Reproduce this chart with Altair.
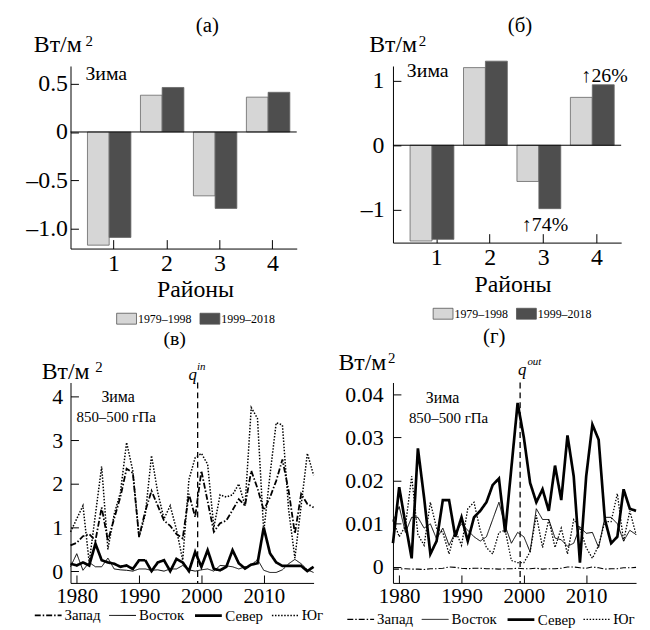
import altair as alt
import pandas as pd

SERIF = "Liberation Serif"

# ---------------- bar panels (а), (б) ----------------
regions = [1, 2, 3, 4]
periods = ["1979–1998", "1999–2018"]
a_first = [-1.17, 0.38, -0.66, 0.36]
a_second = [-1.09, 0.46, -0.79, 0.41]
b_first = [-1.48, 1.20, -0.56, 0.74]
b_second = [-1.455, 1.30, -0.98, 0.935]
a_yticks = [0.5, 0, -0.5, -1.0]
a_ylabels = ["0.5", "0", "–0.5", "–1.0"]
b_yticks = [1, 0, -1]
b_ylabels = ["1", "0", "–1"]

# ---------------- line panels (в), (г) ----------------
years = list(range(1979, 2019))
series = ["Запад", "Восток", "Север", "Юг"]

in_west = [0.59, 0.65, 0.8, 0.85, 0.7, 1.46, 0.7, 1.2, 1.7, 2.35,
           2.25, 0.78, 1.38, 1.84, 1.5, 1.16, 1.04, 0.85, 0.75, 1.77,
           1.24, 2.3, 1.6, 0.9, 1.1, 1.16, 1.4, 1.65, 1.5, 2.3,
           1.9, 1.4, 1.69, 2.07, 2.56, 1.84, 0.86, 1.77, 1.54, 1.46]
in_east = [0.1, 0.4, 0.02, 0.2, 0.1, 0.1, 0.3, 0.05, 0.03, 0.02,
           0.0, 0.05, 0.05, 0.02, 0.03, 0.0, 0.05, 0.05, 0.13, 0.03,
           0.0, 0.03, 0.05, 0.0, 0.13, 0.12, 0.1, 0.05, 0.1, 0.13,
           0.27, 0.02, -0.03, -0.03, 0.03, 0.17, 0.27, 0.17, 0.03, -0.03]
in_north = [0.17, 0.13, 0.2, 0.13, 0.63, 0.25, 0.2, 0.17, 0.1, 0.13,
            0.05, 0.25, 0.25, 0.0, 0.2, 0.25, 0.0, 0.28, 0.2, 0.0,
            0.44, 0.1, 0.48, 0.05, 0.02, 0.1, 0.48, 0.18, 0.06, 0.15,
            0.18, 1.0, 0.41, 0.2, 0.12, 0.12, 0.12, 0.12, 0.0, 0.1]
in_south = [0.9, 1.2, 1.5, 0.2, 1.3, 2.4, 0.5, 1.3, 1.8, 2.95,
            2.3, 0.78, 1.3, 2.65, 1.8, 1.2, 1.5, 0.95, 0.25, 2.1,
            2.6, 2.7, 2.45, 1.0, 1.75, 1.7, 1.75, 2.0, 1.5, 3.75,
            3.5, 0.9, 2.2, 3.4, 3.35, 1.4, 0.3, 1.5, 2.7, 2.2]

out_west = [-0.0005, -0.0005, -0.0004, -0.0005, -0.0005, -0.0006, -0.0004, -0.0004, -0.0003, 0.0,
            -0.0001, -0.0003, -0.0004, -0.0003, -0.0003, -0.0004, -0.0004, -0.0005, -0.0004, -0.0004,
            -0.0003, -0.0004, -0.0004, -0.0003, -0.0005, -0.0004, -0.0004, -0.0003, 0.0, 0.0,
            -0.0002, -0.0003, 0.0, -0.0002, -0.0005, -0.0004, -0.0004, -0.0002, -0.0002, -0.0001]
out_east = [0.0105, 0.014, 0.008, 0.0115, 0.0115, 0.009, 0.010, 0.0065, 0.009, 0.005,
            0.008, 0.010, 0.0085, 0.007, 0.006, 0.007, 0.011, 0.015, 0.0095, 0.0055,
            0.008, 0.007, 0.0035, 0.0135, 0.011, 0.011, 0.0067, 0.0063, 0.0048, 0.0055,
            0.0093, 0.0078, 0.008, 0.0045, 0.0115, 0.0115, 0.010, 0.006, 0.0085, 0.0075]
out_north = [0.0055, 0.0185, 0.010, 0.002, 0.0275, 0.016, 0.003, 0.006, 0.0155, 0.0155,
             0.007, 0.0115, 0.006, 0.0115, 0.013, 0.015, 0.019, 0.0205, 0.008, 0.023,
             0.038, 0.030, 0.0195, 0.015, 0.018, 0.013, 0.0235, 0.0155, 0.0305, 0.021,
             0.001, 0.021, 0.033, 0.0295, 0.011, 0.0055, 0.007, 0.018, 0.0135, 0.013]
out_south = [0.011, 0.007, 0.0095, 0.021, 0.0075, 0.005, 0.015, 0.009, 0.008, 0.003,
             0.0085, 0.005, 0.0135, 0.015, 0.0085, 0.0045, 0.003, 0.008, 0.0085, 0.0015,
             0.001, 0.001, 0.0035, 0.012, 0.0045, 0.011, 0.0045, 0.009, 0.003, 0.011,
             0.009, 0.0045, 0.002, 0.005, 0.0105, 0.0105, 0.017, 0.006, 0.013, 0.0075]

year_ticks = [1980, 1990, 2000, 2010]
in_yticks = [0, 1, 2, 3, 4]
in_ylabels = ["0", "1", "2", "3", "4"]
out_yticks = [0, 0.01, 0.02, 0.03, 0.04]
out_ylabels = ["0", "0.01", "0.02", "0.03", "0.04"]
split_year = [1999.4]

# ---------------- style ----------------
BAR_SHIFT = -0.08
BAR_W = 0.41
DASHES = [[6, 2, 1.5, 2], [1, 0], [1, 0], [1.5, 1.6]]
CUTS = [0.5, 1.5, 2.5]
IN_TICK = alt.ExprRef(expr="-8")


def label_expr(vals, labs):
    parts = [f"datum.value == {v} ? '{l}'" for v, l in zip(vals, labs)]
    return " : ".join(parts) + " : ''"


def txt(s, x, y, size, align="left", style="normal"):
    return alt.Chart(pd.DataFrame({"t": [s]})).mark_text(
        align=align, baseline="middle", font=SERIF, fontSize=size,
        fontStyle=style, color="black"
    ).encode(x=alt.value(x), y=alt.value(y), text="t:N")


def units(lbl_left, lbl_y, sup_left, sup_y):
    return [txt("Вт/м", lbl_left, lbl_y, 24), txt("2", sup_left, sup_y, 15)]


def bar_panel(first, second, ydom, yticks, ylabels, ypad, w, h, lx, ly, texts):
    rows = []
    for k, v1, v2 in zip(regions, first, second):
        rows.append(dict(period=periods[0], value=v1,
                         x0=k + BAR_SHIFT - BAR_W, x1=k + BAR_SHIFT))
        rows.append(dict(period=periods[1], value=v2,
                         x0=k + BAR_SHIFT, x1=k + BAR_SHIFT + BAR_W))
    df = pd.DataFrame(rows)
    bars = alt.Chart(df).mark_bar(stroke="#666666", strokeWidth=0.8).encode(
        x=alt.X("x0:Q", scale=alt.Scale(domain=[0.19, 4.46], nice=False, zero=False),
                axis=alt.Axis(values=regions, format="d", title=None, tickSize=alt.ExprRef(expr="-9"),
                              labelPadding=12, labelFontSize=24)),
        x2="x1",
        y=alt.Y("value:Q", scale=alt.Scale(domain=ydom, nice=False, zero=False),
                axis=alt.Axis(values=yticks, labelExpr=label_expr(yticks, ylabels), title=None,
                              tickSize=IN_TICK, labelPadding=ypad, labelFontSize=24)),
        y2=alt.Y2(datum=0),
        fill=alt.Fill("period:N", scale=alt.Scale(domain=periods, range=["#d6d6d6", "#4e4e4e"]),
                      legend=alt.Legend(orient="none", legendX=lx, legendY=ly, direction="horizontal",
                                        title=None, symbolType="M-1,-0.55L1,-0.55L1,0.55L-1,0.55Z",
                                        symbolSize=400, symbolStrokeColor="#555555",
                                        symbolStrokeWidth=0.8, labelFont=SERIF, labelFontSize=12,
                                        labelOffset=1, columnPadding=6, padding=0)),
    )
    zero = alt.Chart(pd.DataFrame({"z": [0]})).mark_rule(color="black", strokeWidth=1).encode(y="z:Q")
    return alt.layer(bars, zero, *texts).properties(width=w, height=h)


def line_panel(vals, ydom, yticks, ylabels, ypad, w, h, widths, lx, ly, texts):
    rows = []
    for code, s in enumerate(series):
        for y, v in zip(years, vals[code]):
            rows.append(dict(year=y, series=s, code=code, value=v))
    df = pd.DataFrame(rows)
    leg = alt.Legend(orient="none", legendX=lx, legendY=ly, direction="horizontal", title=None,
                     symbolType="stroke", symbolSize=730, symbolStrokeColor="black",
                     labelFont=SERIF, labelFontSize=15, labelOffset=2, columnPadding=5,
                     padding=0, labelExpr="['Запад','Восток','Север','Юг'][datum.index]")
    lines = alt.Chart(df).mark_line(color="black").encode(
        x=alt.X("year:Q", scale=alt.Scale(domain=[1979, 2018], nice=False, zero=False),
                axis=alt.Axis(values=year_ticks, format="d", title=None, tickSize=IN_TICK,
                              labelPadding=11, labelFontSize=21)),
        y=alt.Y("value:Q", scale=alt.Scale(domain=ydom, nice=False, zero=False),
                axis=alt.Axis(values=yticks, labelExpr=label_expr(yticks, ylabels), title=None,
                              tickSize=IN_TICK, labelPadding=ypad, labelFontSize=22)),
        strokeDash=alt.StrokeDash("code:Q", scale=alt.Scale(type="threshold", domain=CUTS, range=DASHES),
                                  legend=leg),
        strokeWidth=alt.StrokeWidth("code:Q", scale=alt.Scale(type="threshold", domain=CUTS, range=widths),
                                    legend=leg),
        detail="series:N",
    )
    split = alt.Chart(pd.DataFrame({"yr": split_year})).mark_rule(
        color="black", strokeWidth=1.3, strokeDash=[6, 4]).encode(x="yr:Q")
    return alt.layer(lines, split, *texts).properties(width=w, height=h)


panel_a = bar_panel(
    a_first, a_second, [-1.205, 0.682], a_yticks, a_ylabels, 11, 228, 184, 46, 244,
    [txt("(а)", 138, -40, 21, align="center")]
    + units(-37, -21, 15, -25)
    + [txt("Зима", 15, 8, 20), txt("Районы", 126, 226, 24, align="center")],
)
panel_b = bar_panel(
    b_first, b_second, [-1.505, 1.225], b_yticks, b_ylabels, 17, 230, 178, 40, 239,
    [txt("(б)", 128, -40, 21, align="center")]
    + units(-24, -21, 26, -25)
    + [txt("Зима", 14, 5, 20), txt("↑26%", 190, 10, 20), txt("↑74%", 130, 160, 20),
       txt("Районы", 121, 221, 24, align="center")],
)
panel_v = line_panel(
    [in_west, in_east, in_north, in_south], [-0.27, 4.325], in_yticks, in_ylabels, 16, 245, 202,
    [1.8, 1.0, 2.7, 1.5], -37, 220,
    [txt("(в)", 105, -44, 20, align="center")]
    + units(-29, -11, 25, -16)
    + [txt("q", 119, -8, 17, style="italic"), txt("in", 127.5, -16, 11, style="italic"),
       txt("Зима", 48, 15, 16, align="center"), txt("850–500 гПа", 46, 35, 15, align="center")],
)
panel_g = line_panel(
    [out_west, out_east, out_north, out_south], [-0.0037, 0.04275], out_yticks, out_ylabels, 18, 245, 202,
    [1.1, 1.0, 2.7, 1.3], -47, 224,
    [txt("(г)", 102, -46, 21, align="center")]
    + units(-55, -20, -5, -25)
    + [txt("q", 126, -13, 17, style="italic"), txt("out", 135.5, -21, 11, style="italic"),
       txt("Зима", 50, 16, 16, align="center"), txt("850–500 гПа", 56, 36, 15, align="center")],
)

chart = (
    alt.concat(panel_a, panel_b, panel_v, panel_g, columns=2,
               spacing={"row": 135, "column": 80}, bounds="flush")
    .resolve_scale(fill="independent", strokeDash="independent", strokeWidth="independent")
    .resolve_legend(fill="independent", strokeDash="independent", strokeWidth="independent")
    .configure_view(stroke=None)
    .configure_axis(domainColor="black", tickColor="black", labelColor="black", labelFont=SERIF,
                    grid=False, domainWidth=1, tickWidth=1)
    .properties(background="white", padding={"left": 18, "top": 5, "right": 0, "bottom": 0})
)

chart.save("out.html", embed_options={"renderer": "svg", "actions": False})
